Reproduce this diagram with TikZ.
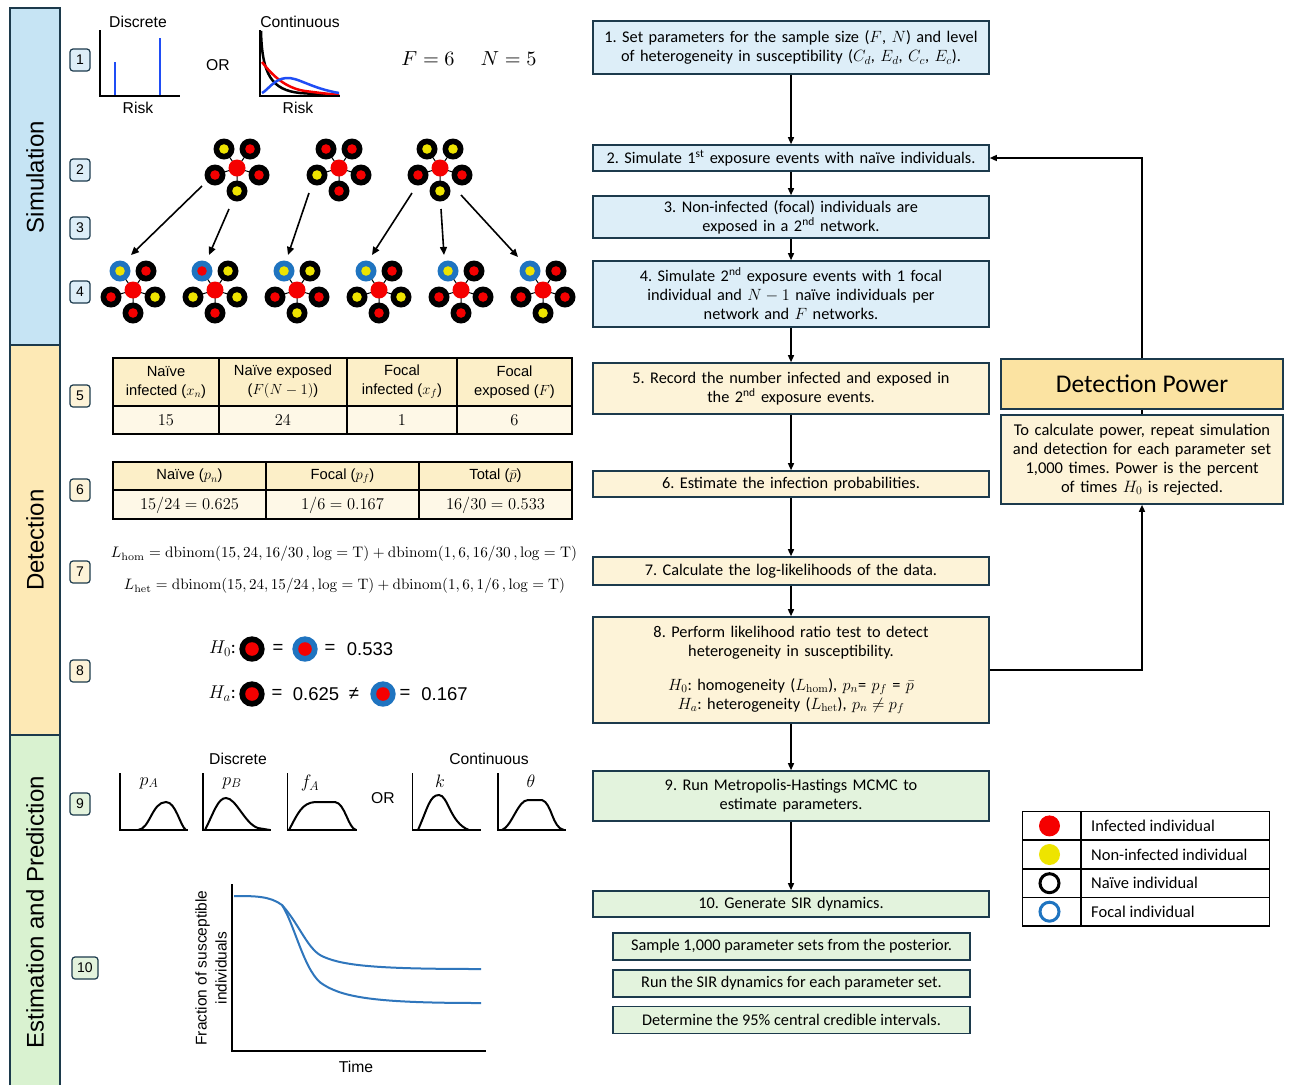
\documentclass[tikz,border=0pt]{standalone}
\usepackage{fix-cm}
\usepackage[no-math]{fontspec}
\setmainfont{Carlito}
\newfontfamily\arialf{Liberation Sans}
\usetikzlibrary{arrows.meta}
\frenchspacing
\medmuskip=4mu
\thickmuskip=5mu
\definecolor{navy}{HTML}{1C3A4C}
\definecolor{simband}{HTML}{C6E4F4}
\definecolor{detband}{HTML}{FDE9B5}
\definecolor{estband}{HTML}{D9F2D0}
\definecolor{simbox}{HTML}{DDEEF8}
\definecolor{detbox}{HTML}{FDF3D8}
\definecolor{dpbox}{HTML}{FBE3A2}
\definecolor{estbox}{HTML}{E3F3DD}
\definecolor{focalblue}{HTML}{1F74C0}
\definecolor{barblue}{HTML}{1F4DF5}
\definecolor{sirblue}{HTML}{2F76BC}
\definecolor{infred}{HTML}{F50000}
\definecolor{noninf}{HTML}{EEE400}
\definecolor{thead}{HTML}{FCEFC8}
\definecolor{tbody}{HTML}{FEF8E7}
\newcommand{\flowfont}{\fontsize{16.3}{19}\selectfont\medmuskip=4mu\thickmuskip=5mu}
\tikzset{
  flow/.style={draw=navy, line width=1.6pt, align=center, inner sep=0pt, minimum width=396pt, text width=392pt, font=\flowfont},
  subbox/.style={draw=navy, line width=1.6pt, align=center, inner sep=0pt, minimum width=357pt, minimum height=27pt, fill=estbox, font=\flowfont},
  arr/.style={line width=1.4pt, -{Triangle[length=7pt,width=6pt]}},
  netarr/.style={line width=1.6pt, -{Triangle[length=8pt,width=7pt]}},
  numbox/.style={draw=navy, line width=1.2pt, rounded corners=3pt, minimum width=20pt, minimum height=22pt, inner sep=0pt, font=\arialf\fontsize{14}{14}\selectfont},
  band/.style={draw=navy, line width=1.5pt},
  bandlabel/.style={rotate=90, inner sep=0pt, font=\arialf\fontsize{24}{25}\selectfont},
  lab/.style={inner sep=0pt, font=\arialf\fontsize{15.7}{18}\selectfont},
  big/.style={inner sep=0pt, font=\arialf\fontsize{18.5}{21}\selectfont},
  thtext/.style={inner sep=0pt, align=center, font=\arialf\fontsize{14.7}{19}\selectfont},
  tval/.style={inner sep=0pt, font=\fontsize{16.5}{19}\selectfont},
  tline/.style={line width=1.4pt},
  axis/.style={line width=1.8pt},
  legtext/.style={inner sep=0pt, anchor=west, font=\fontsize{16.5}{19}\selectfont},
  pics/star/.style n args={6}{code={
    \draw[line width=1pt] (-13,-19) -- (0,0) -- (13,-19) (-22,7) -- (0,0) -- (22,7) (0,0) -- (0,23);
    \fill[#1] (-13,-19) circle (10.5pt); \fill[#2] (-13,-19) circle (4.8pt);
    \fill[black] (13,-19) circle (10.5pt); \fill[#3] (13,-19) circle (4.8pt);
    \fill[black] (-22,7) circle (10.5pt); \fill[#4] (-22,7) circle (4.8pt);
    \fill[black] (22,7) circle (10.5pt); \fill[#5] (22,7) circle (4.8pt);
    \fill[black] (0,23) circle (10.5pt); \fill[#6] (0,23) circle (4.8pt);
    \fill[infred] (0,0) circle (8.5pt);
  }},
}
\begin{document}
\begin{tikzpicture}[x=1pt,y=-1pt]
\useasboundingbox (0,0) rectangle (1290,1085);
\fill[white] (0,0) rectangle (1290,1085);

% ---------- left bands ----------
\fill[simband] (10,8) rectangle (60,345);
\fill[detband] (10,345) rectangle (60,735);
\fill[estband] (10,735) rectangle (60,1085);
\draw[band] (10,8) rectangle (60,345);
\draw[band] (10,345) rectangle (60,735);
\draw[band] (10,1085) -- (10,735) -- (60,735) -- (60,1085);
\node[bandlabel] (bsim) at (35,177) {Simulation};
\node[bandlabel] (bdet) at (35,540) {Detection};
\node[bandlabel] (best) at (35,912) {Estimation and Prediction};

% ---------- step numbers ----------
\node[numbox, fill=simbox] (n1) at (80,60) {1};
\node[numbox, fill=simbox] (n2) at (80,170) {2};
\node[numbox, fill=simbox] (n3) at (80,228) {3};
\node[numbox, fill=simbox] (n4) at (80,292) {4};
\node[numbox, fill=detbox] (n5) at (80,396) {5};
\node[numbox, fill=detbox] (n6) at (80,490) {6};
\node[numbox, fill=detbox] (n7) at (80,572) {7};
\node[numbox, fill=detbox] (n8) at (80,671) {8};
\node[numbox, fill=estbox] (n9) at (80,804) {9};
\node[numbox, fill=estbox, minimum width=26pt] (n10) at (85,968) {10};

% ---------- step 1 ----------
\node[lab] (disc1) at (138,22) {Discrete};
\node[lab] (risk1) at (138,108) {Risk};
\draw[line width=2.6pt, barblue] (115,96) -- (115,62);
\draw[line width=2.6pt, barblue] (160,96) -- (160,38);
\draw[axis] (100,30) -- (100,96) -- (180,96);
\node[lab] (or1) at (218,65) {OR};
\node[lab] (cont1) at (300,22) {Continuous};
\node[lab] (risk2) at (298,108) {Risk};
\draw[line width=2.5pt, black] (261,31) .. controls (262,75) and (272,90) .. (300,93) .. controls (315,94) and (330,95) .. (339,95);
\draw[line width=2.5pt, infred] (262,62) .. controls (272,75) and (285,88) .. (305,91) .. controls (320,93) and (330,94) .. (339,95);
\draw[line width=2.5pt, barblue] (262,93) .. controls (268,90) and (274,79) .. (286,78) .. controls (298,77) and (310,88) .. (339,93);
\draw[axis] (260,30) -- (260,96) -- (340,96);
\node[inner sep=0pt] (fn) at (469,59) {\resizebox{135pt}{!}{$F = 6 \quad\; N = 5$}};

% ---------- networks ----------
\pic at (237,168) {star={black}{noninf}{infred}{infred}{infred}{noninf}};
\pic at (339,168) {star={black}{infred}{infred}{noninf}{infred}{infred}};
\pic at (440,168) {star={black}{noninf}{noninf}{infred}{infred}{noninf}};
\pic at (133,290) {star={focalblue}{noninf}{infred}{infred}{noninf}{infred}};
\pic at (215,290) {star={focalblue}{infred}{noninf}{noninf}{noninf}{infred}};
\pic at (297,290) {star={focalblue}{noninf}{noninf}{infred}{infred}{noninf}};
\pic at (379,290) {star={focalblue}{noninf}{infred}{noninf}{noninf}{infred}};
\pic at (461,290) {star={focalblue}{noninf}{infred}{infred}{infred}{infred}};
\pic at (543,290) {star={focalblue}{noninf}{infred}{infred}{infred}{noninf}};
\coordinate (a1s) at (202,186); \coordinate (a1e) at (131,255);
\coordinate (a2s) at (229,209); \coordinate (a2e) at (209,255);
\coordinate (a3s) at (309,193); \coordinate (a3e) at (288,255);
\coordinate (a4s) at (412,193); \coordinate (a4e) at (372,255);
\coordinate (a5s) at (441,209); \coordinate (a5e) at (444,255);
\coordinate (a6s) at (461,195); \coordinate (a6e) at (518,257);
\foreach \i in {1,...,6} \draw[netarr] (a\i s) -- (a\i e);

% ---------- step 5 table ----------
\fill[thead] (113,358) rectangle (572,406);
\fill[tbody] (113,406) rectangle (572,434);
\draw[tline] (113,358) rectangle (572,434);
\draw[tline] (113,406) -- (572,406);
\foreach \x in {219,347,457} \draw[tline] (\x,358) -- (\x,434);
\node[thtext] (t1a) at (166,382) {Naïve\\infected ($x_n$)};
\node[thtext] (t1b) at (283,382) {Naïve exposed\\($F(N-1)$)};
\node[thtext] (t1c) at (402,382) {Focal\\infected ($x_f$)};
\node[thtext] (t1d) at (514.5,382) {Focal\\exposed ($F$)};
\node[tval] (v1a) at (166,420) {$15$};
\node[tval] (v1b) at (283,420) {$24$};
\node[tval] (v1c) at (402,420) {$1$};
\node[tval] (v1d) at (514.5,420) {$6$};

% ---------- step 6 table ----------
\fill[thead] (113,462) rectangle (572,490);
\fill[tbody] (113,490) rectangle (572,519);
\draw[tline] (113,462) rectangle (572,519);
\draw[tline] (113,490) -- (572,490);
\foreach \x in {266,419} \draw[tline] (\x,462) -- (\x,519);
\node[thtext] (t2a) at (189.5,476) {Naïve ($p_n$)};
\node[thtext] (t2b) at (342.5,476) {Focal ($p_f$)};
\node[thtext] (t2c) at (495.5,476) {Total ($\bar{p}$)};
\node[tval] (v2a) at (189.5,505) {$15/24 = 0.625$};
\node[tval] (v2b) at (342.5,505) {$1/6 = 0.167$};
\node[tval] (v2c) at (495.5,505) {$16/30 = 0.533$};

% ---------- step 7 equations ----------
\node[inner sep=0pt] (eq1) at (344,554) {\resizebox{466pt}{!}{$L_{\mathrm{hom}} = \mathrm{dbinom}(15, 24, 16/30\,, \log = \mathrm{T}) + \mathrm{dbinom}(1, 6, 16/30\,, \log = \mathrm{T})$}};
\node[inner sep=0pt] (eq2) at (344.5,586) {\resizebox{441pt}{!}{$L_{\mathrm{het}} = \mathrm{dbinom}(15, 24, 15/24\,, \log = \mathrm{T}) + \mathrm{dbinom}(1, 6, 1/6\,, \log = \mathrm{T})$}};

% ---------- step 8 hypotheses ----------
\node[big, anchor=east, font=\fontsize{18.5}{21}\selectfont] (h0) at (236,649) {$H_0$:};
\fill[black] (252,649) circle (12.7pt); \fill[infred] (252,649) circle (6.8pt);
\node[big] (h0e1) at (278,649) {=};
\fill[focalblue] (305,649) circle (12.7pt); \fill[infred] (305,649) circle (6.8pt);
\node[big] (h0e2) at (330,649) {=};
\node[big] (h0v) at (370,649) {0.533};
\node[big, anchor=east, font=\fontsize{18.5}{21}\selectfont] (ha) at (236,694) {$H_a$:};
\fill[black] (252,694) circle (12.7pt); \fill[infred] (252,694) circle (6.8pt);
\node[big] (hae1) at (277,694) {=};
\node[big] (hav1) at (316,694) {0.625};
\node[big] (hane) at (354,694) {≠};
\fill[focalblue] (383,694) circle (12.7pt); \fill[infred] (383,694) circle (6.8pt);
\node[big] (hae2) at (405,694) {=};
\node[big] (hav2) at (444.5,694) {0.167};

% ---------- step 9 posteriors ----------
\node[lab] (disc9) at (238,759) {Discrete};
\node[lab] (cont9) at (489,759) {Continuous};
\node[lab] (or9) at (383,798) {OR};
\node[inner sep=0pt, font=\fontsize{18}{20}\selectfont] (pa) at (149,783) {$p_A$};
\node[inner sep=0pt, font=\fontsize{18}{20}\selectfont] (pb) at (232,783) {$p_B$};
\node[inner sep=0pt, font=\fontsize{18}{20}\selectfont] (fa) at (310,783) {$f_A$};
\node[inner sep=0pt, font=\fontsize{18}{20}\selectfont] (kk) at (440,781) {$k$};
\node[inner sep=0pt, font=\fontsize{18}{20}\selectfont] (th) at (531,781) {$\theta$};
\draw[line width=2pt] (138,830) .. controls (150,829) and (152,802) .. (166,802) .. controls (176,802) and (180,826) .. (186,830);
\draw[line width=2pt] (205,830) .. controls (214,812) and (218,798) .. (226,798) .. controls (236,798) and (245,824) .. (258,828) -- (270,830);
\draw[line width=2pt] (289,830) .. controls (298,813) and (302,803) .. (315,802) -- (335,802) .. controls (345,803) and (348,828) .. (356,830);
\draw[line width=2pt] (418,830) .. controls (428,807) and (430,795) .. (439,795) .. controls (448,795) and (450,823) .. (469,830);
\draw[line width=2pt] (502,830) .. controls (512,826) and (518,800) .. (528,800) -- (542,800) .. controls (552,803) and (552,828) .. (564,830);
\draw[axis] (120,773) -- (120,830) -- (188,830);
\draw[axis] (203,773) -- (203,830) -- (271,830);
\draw[axis] (287.5,773) -- (287.5,830) -- (357,830);
\draw[axis] (412.5,773) -- (412.5,830) -- (481,830);
\draw[axis] (498,773) -- (498,830) -- (566,830);

% ---------- step 10 SIR plot ----------
\draw[line width=2pt, sirblue] (234,896) .. controls (255,896) and (270,896) .. (282,905) .. controls (300,925) and (308,951) .. (324,957) .. controls (345,966) and (380,969) .. (481,969);
\draw[line width=2pt, sirblue] (282,905) .. controls (295,925) and (305,975) .. (324,985) .. controls (345,998) and (380,1003) .. (481,1003);
\draw[axis] (232,884) -- (232,1051) -- (486,1051);
\node[lab, rotate=90, align=center, font=\arialf\fontsize{15.5}{20}\selectfont] (ylab) at (211,968) {Fraction of susceptible\\individuals};
\node[lab] (tlab) at (356,1067) {Time};

% ---------- flowchart ----------
\node[flow, fill=simbox, minimum height=53pt] (b1) at (791,47.5) {1. Set parameters for the sample size ($F$, $N$) and level\\of heterogeneity in susceptibility ($C_d$, $E_d$, $C_c$, $E_c$).};
\node[flow, fill=simbox, minimum height=26pt] (b2) at (791,158) {2. Simulate 1\textsuperscript{st} exposure events with naïve individuals.};
\node[flow, fill=simbox, minimum height=42pt] (b3) at (791,217) {3. Non-infected (focal) individuals are\\exposed in a 2\textsuperscript{nd} network.};
\node[flow, fill=simbox, minimum height=66pt] (b4) at (791,294) {4. Simulate 2\textsuperscript{nd} exposure events with 1 focal\\individual and $N\mskip4mu{-}\mskip4mu1$ naïve individuals per\\network and $F$ networks.};
\node[flow, fill=detbox, minimum height=51pt] (b5) at (791,388.5) {5. Record the number infected and exposed in\\the 2\textsuperscript{nd} exposure events.};
\node[flow, fill=detbox, minimum height=26pt] (b6) at (791,484) {6. Estimate the infection probabilities.};
\node[flow, fill=detbox, minimum height=28pt] (b7) at (791,571) {7. Calculate the log-likelihoods of the data.};
\node[flow, fill=detbox, minimum height=106pt] (b8) at (791,670) {8. Perform likelihood ratio test to detect\\heterogeneity in susceptibility.\\[15pt]$H_0$: homogeneity ($L_{\mathrm{hom}}$), $p_n$= $p_f$ = $\bar{p}$\\$H_a$: heterogeneity ($L_{\mathrm{het}}$), $p_n\mskip5mu{\neq}\mskip5mu p_f$};
\node[flow, fill=estbox, minimum height=50pt] (b9) at (791,796) {9. Run Metropolis-Hastings MCMC to\\estimate parameters.};
\node[flow, fill=estbox, minimum height=26pt] (b10) at (791,904) {10. Generate SIR dynamics.};
\node[subbox] (s1) at (791.5,946.5) {Sample 1,000 parameter sets from the posterior.};
\node[subbox] (s2) at (791.5,983.5) {Run the SIR dynamics for each parameter set.};
\node[subbox] (s3) at (791.5,1020) {Determine the 95\% central credible intervals.};

\node[draw=navy, line width=1.6pt, fill=dpbox, minimum width=282pt, minimum height=50pt, inner sep=0pt, font=\fontsize{25.5}{28}\selectfont] (dp) at (1142,384) {Detection Power};
\node[draw=navy, line width=1.6pt, fill=detbox, minimum width=282pt, minimum height=89pt, inner sep=0pt, text width=278pt, align=center, font=\fontsize{16.5}{19}\selectfont] (dpt) at (1142,459.5) {To calculate power, repeat simulation\\and detection for each parameter set\\1,000 times. Power is the percent\\of times $H_0$ is rejected.};

\draw[arr] (b1.south) -- (b2.north);
\draw[arr] (b2.south) -- (b3.north);
\draw[arr] (b3.south) -- (b4.north);
\draw[arr] (b4.south) -- (b5.north);
\draw[arr] (b5.south) -- (b6.north);
\draw[arr] (b6.south) -- (b7.north);
\draw[arr] (b7.south) -- (b8.north);
\draw[arr] (b8.south) -- (b9.north);
\draw[arr] (b9.south) -- (b10.north);
\draw[arr] (b8.east) -| (dpt.south);
\draw[line width=1.4pt] (dp.south) -- (dpt.north);
\draw[arr] (dp.north) |- (b2.east);

% ---------- legend ----------
\draw[line width=1.5pt] (1022.5,811.7) rectangle (1269.5,926);
\foreach \y in {840,869,897.3} \draw[line width=1.5pt] (1022.5,\y) -- (1269.5,\y);
\draw[line width=1.5pt] (1081,811.7) -- (1081,926);
\fill[infred] (1049.5,825.9) circle (10.5pt);
\fill[noninf] (1049.5,854.5) circle (10.5pt);
\draw[line width=3pt, black] (1049.5,883.2) circle (9.5pt);
\draw[line width=3pt, focalblue] (1049.5,911.7) circle (9.5pt);
\node[legtext] (l1) at (1091,825.9) {Infected individual};
\node[legtext] (l2) at (1091,854.5) {Non-infected individual};
\node[legtext] (l3) at (1091,883.2) {Naïve individual};
\node[legtext] (l4) at (1091,911.7) {Focal individual};
\end{tikzpicture}
\end{document}
